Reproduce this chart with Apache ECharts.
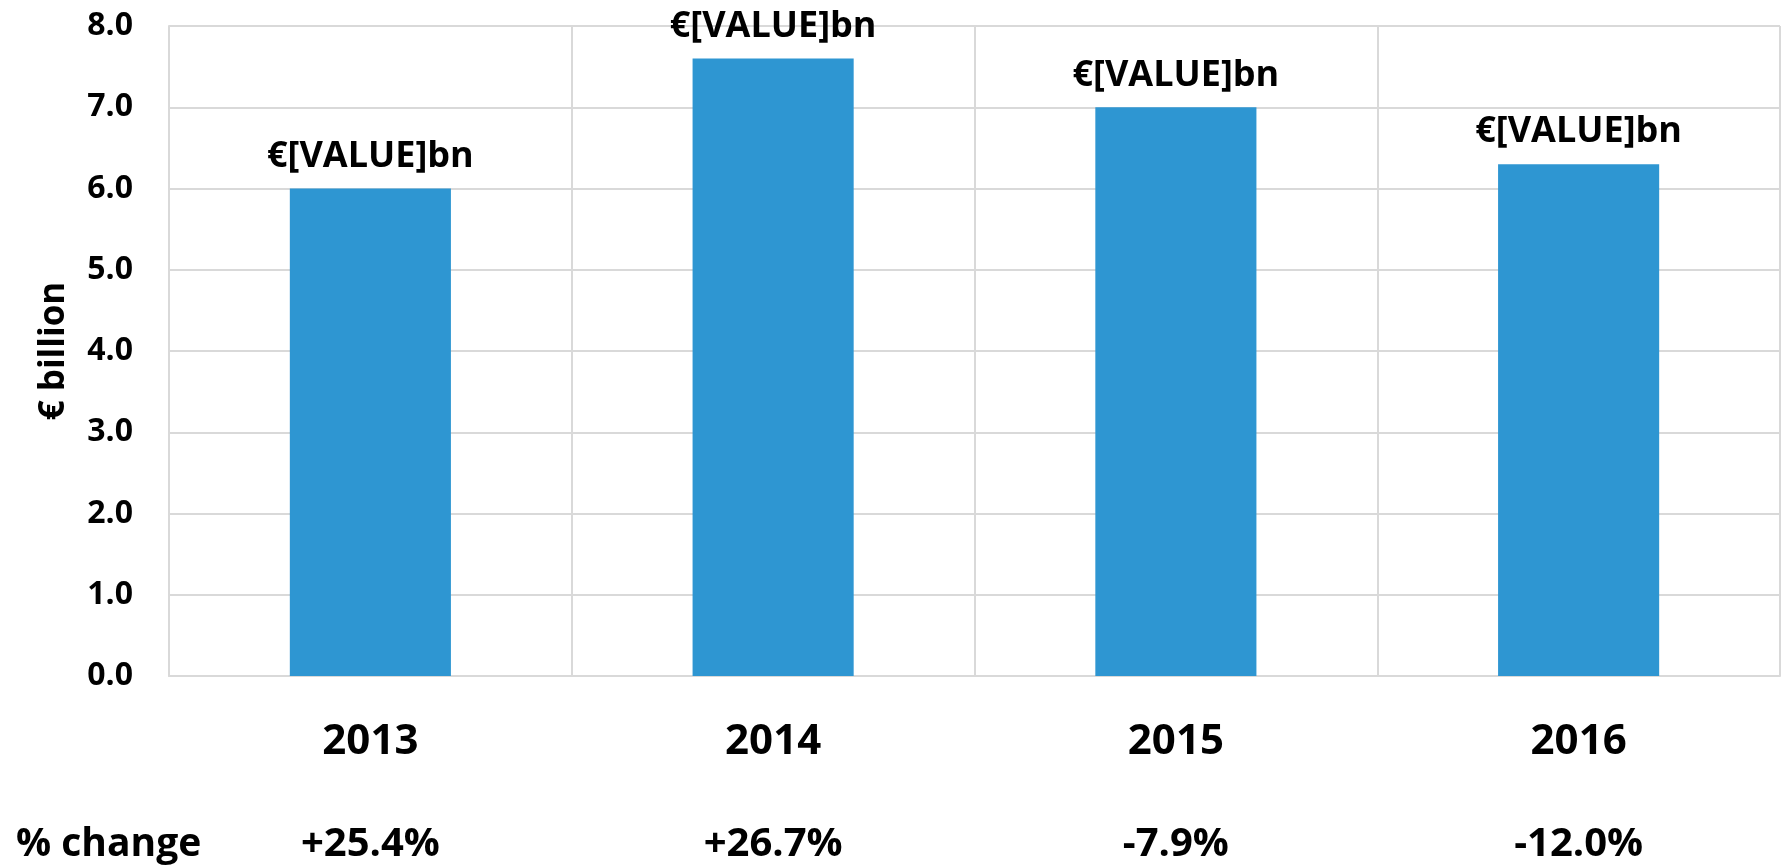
<!DOCTYPE html>
<html>
<head>
<meta charset="utf-8">
<script src="https://cdn.jsdelivr.net/npm/echarts@6/dist/echarts.min.js"></script>
<style>
    html, body { margin: 0; padding: 0; background: #fff; }
    #chart { width: 1785px; height: 866px; }
</style>
</head>
<body>
<div id="chart"></div>
<script>
// data
const years = ['2013', '2014', '2015', '2016'];
const spending = [6.0, 7.6, 7.0, 6.3];
const pctChange = ['+25.4%', '+26.7%', '-7.9%', '-12.0%'];
const yTicks = { min: 0, max: 8, interval: 1 };

const FONT = '"Open Sans", "Noto Sans", sans-serif';

const chart = echarts.init(document.getElementById('chart'));

const option = {
    animation: false,
    backgroundColor: '#ffffff',
    textStyle: { fontFamily: FONT },
    title: {
        text: '% change',
        left: 11,
        top: 820,
        textStyle: { fontFamily: FONT, fontSize: 39, fontWeight: 'bold', color: '#000' }
    },
    grid: { left: 169, right: 5, top: 26, bottom: 190 },
    xAxis: [
        {
            type: 'category',
            data: years,
            axisLine: { show: true, lineStyle: { color: '#d9d9d9', width: 2 } },
            axisTick: { show: false },
            splitLine: { show: true, lineStyle: { color: '#d9d9d9', width: 2 } },
            axisLabel: {
                margin: 45,
                fontFamily: FONT, fontSize: 42, fontWeight: 'bold', color: '#000'
            }
        },
        {
            // second row under the years: % change
            type: 'category',
            data: years,
            position: 'bottom',
            axisLine: { show: false },
            axisTick: { show: false },
            splitLine: { show: false },
            axisLabel: {
                margin: 149,
                fontFamily: FONT, fontSize: 40, fontWeight: 'bold', color: '#000',
                formatter: function (v, i) { return pctChange[i]; }
            }
        }
    ],
    yAxis: {
        type: 'value',
        min: yTicks.min,
        max: yTicks.max,
        interval: yTicks.interval,
        name: '€ billion',
        nameLocation: 'middle',
        nameGap: 97,
        nameRotate: 90,
        nameTextStyle: { fontFamily: FONT, fontSize: 35, fontWeight: 'bold', color: '#000' },
        axisLine: { show: true, lineStyle: { color: '#d9d9d9', width: 2 } },
        axisTick: { show: false },
        splitLine: { show: true, lineStyle: { color: '#d9d9d9', width: 2 } },
        axisLabel: {
            margin: 36,
            fontFamily: FONT, fontSize: 32, fontWeight: 'bold', color: '#000',
            formatter: function (v) { return v.toFixed(1); }
        }
    },
    series: [{
        type: 'bar',
        data: spending,
        barWidth: '40%',
        itemStyle: { color: '#2e96d2' },
        label: {
            show: true,
            position: 'top',
            distance: 14,
            formatter: '€[VALUE]bn',
            fontFamily: FONT, fontSize: 36, fontWeight: 'bold', color: '#000'
        }
    }]
};

chart.setOption(option);
</script>
</body>
</html>
